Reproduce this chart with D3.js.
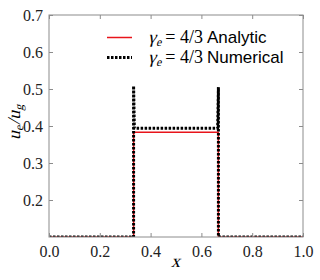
<!DOCTYPE html>
<html><head><meta charset="utf-8">
<script src="https://cdn.jsdelivr.net/npm/d3@7"></script>
<style>body{margin:0;background:#fff}svg{display:block}</style>
</head><body><svg id="c" width="320" height="280"></svg>
<script>
const xTicks = [0.0, 0.2, 0.4, 0.6, 0.8, 1.0];
const yTicks = [0.2, 0.3, 0.4, 0.5, 0.6, 0.7];
const analyticX = [0, 0.3333, 0.3333, 0.6667, 0.6667, 1.0];
const analyticY = [0.1, 0.1, 0.383, 0.383, 0.1, 0.1];
const numericalX = [0, 0.333, 0.333, 0.336, 0.664, 0.667, 0.667, 1.0];
const numericalY = [0.1, 0.1, 0.508, 0.394, 0.394, 0.505, 0.1, 0.1];
const legendLabels = ["Analytic", "Numerical"];

const SERIF = '"Liberation Serif", serif';
const SANS = '"Liberation Sans", sans-serif';
const svg = d3.select("#c");
const L = 49, R = 303, T = 15, B = 237;
const x = d3.scaleLinear().domain([0, 1]).range([L, R]);
const y = d3.scaleLinear().domain([0.1, 0.7]).range([B, T]);
const axisColor = "#8c8c8c";

svg.append("defs").append("clipPath").attr("id", "clip")
  .append("rect").attr("x", L).attr("y", T).attr("width", R - L).attr("height", B - T);

const line = d3.line().x(d => x(d[0])).y(d => y(d[1]));
const g = svg.append("g").attr("clip-path", "url(#clip)");
g.append("path").datum(analyticX.map((v, i) => [v, analyticY[i]]))
  .attr("d", line).attr("fill", "none").attr("stroke", "#e8141b").attr("stroke-width", 1.5);
g.append("path").datum(numericalX.map((v, i) => [v, numericalY[i]]))
  .attr("d", line).attr("fill", "none").attr("stroke", "#000").attr("stroke-width", 3)
  .attr("stroke-dasharray", "2.5,1.5");

function styleAxis(a) {
  a.attr("font-family", null).attr("font-size", null);
  a.select(".domain").remove();
  a.selectAll(".tick line").attr("stroke", axisColor);
  a.selectAll(".tick text").style("font-family", SERIF).style("font-size", "16px").attr("fill", "#222");
}
const ax = svg.append("g").attr("transform", `translate(0,${B})`)
  .call(d3.axisBottom(x).tickValues(xTicks).tickSizeInner(-4).tickSizeOuter(0).tickPadding(9).tickFormat(d3.format(".1f")));
styleAxis(ax);
const axT = svg.append("g").attr("transform", `translate(0,${T})`)
  .call(d3.axisTop(x).tickValues(xTicks).tickSizeInner(-4).tickSizeOuter(0).tickFormat(""));
styleAxis(axT);
const ay = svg.append("g").attr("transform", `translate(${L},0)`)
  .call(d3.axisLeft(y).tickValues(yTicks).tickSizeInner(-4).tickSizeOuter(0).tickPadding(6).tickFormat(d3.format(".1f")));
styleAxis(ay);
const ayR = svg.append("g").attr("transform", `translate(${R},0)`)
  .call(d3.axisRight(y).tickValues(yTicks).tickSizeInner(-4).tickSizeOuter(0).tickFormat(""));
styleAxis(ayR);

svg.append("rect").attr("x", L).attr("y", T).attr("width", R - L).attr("height", B - T)
  .attr("fill", "none").attr("stroke", axisColor).attr("stroke-width", 1);

// italic math piece: upright serif glyph slanted with skewX
function mathItalic(parent, px, py, str, size) {
  const t = parent.append("text").attr("transform", `translate(${px},${py}) skewX(-14)`)
    .style("font-family", SERIF).style("font-size", size + "px").attr("fill", "#000").text(str);
  return t.node().getComputedTextLength();
}
function plain(parent, px, py, str, size, fam) {
  const t = parent.append("text").attr("x", px).attr("y", py)
    .style("font-family", fam).style("font-size", size + "px").attr("fill", "#000").text(str);
  return t.node().getComputedTextLength();
}

// legend
const leg = [
  {label: legendLabels[0], color: "#e8141b", w: 1.5, dash: null, yy: 37.5},
  {label: legendLabels[1], color: "#000", w: 3, dash: "2.5,1.5", yy: 57.5}
];
leg.forEach(d => {
  svg.append("line").attr("x1", 107).attr("x2", 132).attr("y1", d.yy).attr("y2", d.yy)
    .attr("stroke", d.color).attr("stroke-width", d.w).attr("stroke-dasharray", d.dash);
  const by = d.yy + 5.5;
  let cx = 148;
  cx += mathItalic(svg, cx, by, "γ", 18);
  cx += mathItalic(svg, cx, by + 3, "e", 12) + 4;
  cx += plain(svg, cx, by, "= 4/3", 18, SERIF) + 4;
  plain(svg, cx, by, d.label, 17, SANS);
});

// axis labels
mathItalic(svg, 171, 267, "x", 18);
const yg = svg.append("g").attr("transform", "translate(20,140) rotate(-90)");
let yx = 0;
yx += mathItalic(yg, yx, 0, "u", 18);
yx += mathItalic(yg, yx, 3, "e", 12) + 1;
yx += mathItalic(yg, yx, 0, "/", 18);
yx += mathItalic(yg, yx, 0, "u", 18);
mathItalic(yg, yx, 3, "g", 12);
</script></body></html>
